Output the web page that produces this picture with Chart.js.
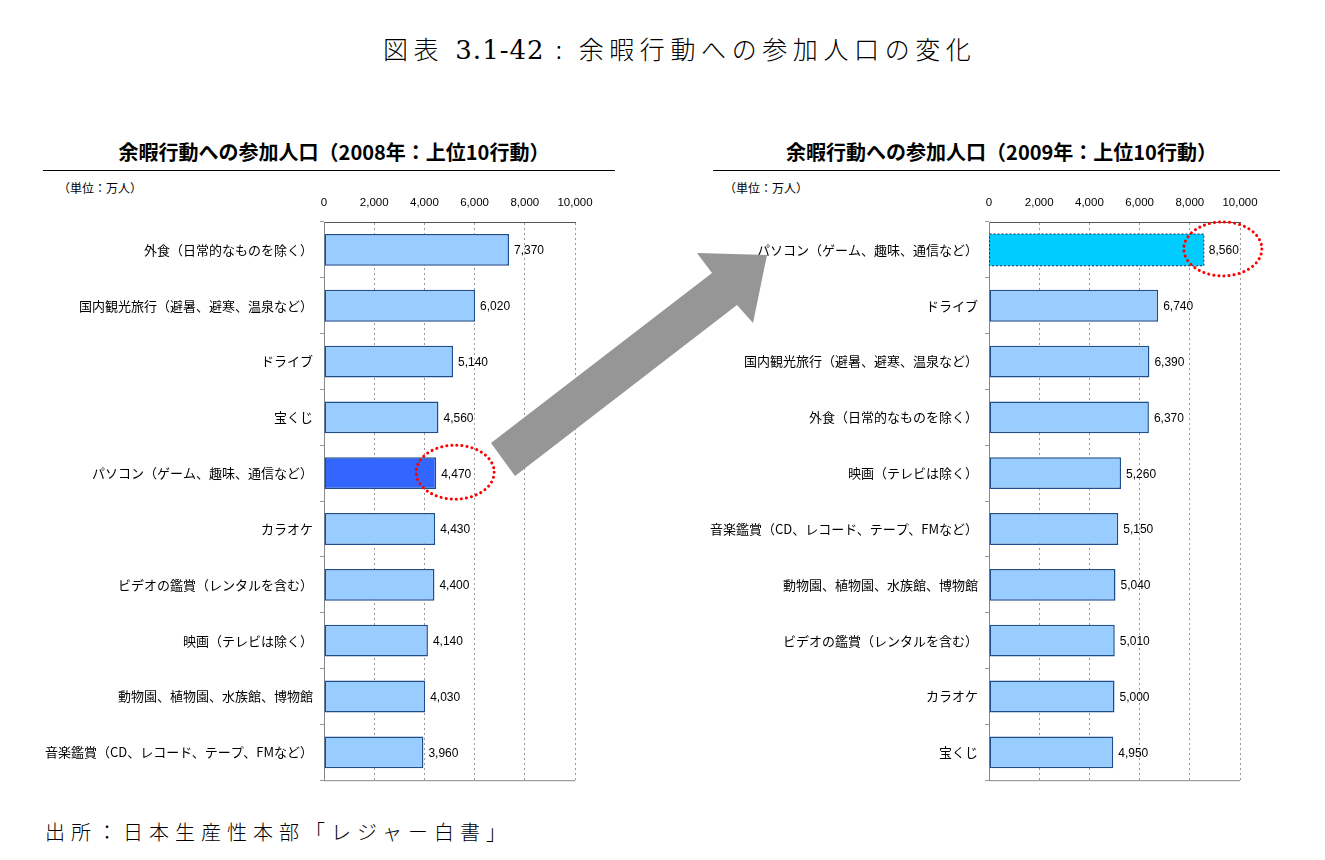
<!DOCTYPE html>
<html lang="ja">
<head>
<meta charset="utf-8">
<script src="https://cdn.jsdelivr.net/npm/chart.js@4.4.1/dist/chart.umd.min.js"></script>
<style>
  body { margin: 0; background: #fff; width: 1325px; height: 860px; position: relative; overflow: hidden;
         font-family: "Noto Sans CJK JP", sans-serif; color: #000; }
  .abs { position: absolute; }
  #mainTitle { left: 383px; top: 30px; white-space: nowrap; font-size: 25px; letter-spacing: 5.6px;
               font-family: "Noto Sans CJK JP", sans-serif; font-weight: 300; }
  #mainTitle .num { font-family: "DejaVu Serif", serif; letter-spacing: 1px; font-size: 26px; }
  .chartTitle { font-size: 20px; font-weight: bold; text-align: center; border-bottom: 1.5px solid #000;
                height: 36px; line-height: 36px; top: 134px; white-space: nowrap; }
  .chartTitle span { position: relative; left: 5px; }
  .unit { font-size: 12px; top: 179px; }
  .box { position: absolute; top: 178px; width: 580px; height: 617px; }
  #source { left: 45px; top: 817px; font-size: 20px; letter-spacing: 6px; font-weight: 300; }
  #overlay { position: absolute; left: 0; top: 0; pointer-events: none; }
</style>
</head>
<body>
<div id="mainTitle" class="abs">図表 <span class="num">3.1-42</span> : 余暇行動への参加人口の変化</div>

<div class="abs chartTitle" style="left:43px;width:572px;"><span>余暇行動への参加人口（2008年：上位10行動）</span></div>
<div class="abs chartTitle" style="left:713px;width:567px;"><span>余暇行動への参加人口（2009年：上位10行動）</span></div>
<div class="abs unit" style="left:58px;">（単位：万人）</div>
<div class="abs unit" style="left:724px;">（単位：万人）</div>

<div class="box" style="left:40px;"><canvas id="chart2008"></canvas></div>
<div class="box" style="left:710px;"><canvas id="chart2009"></canvas></div>

<div id="source" class="abs">出所：日本生産性本部「レジャー白書」</div>
<canvas id="overlay" width="1325" height="860"></canvas>

<script>
// 2008 top 10
const labels2008 = [
  "外食（日常的なものを除く）",
  "国内観光旅行（避暑、避寒、温泉など）",
  "ドライブ",
  "宝くじ",
  "パソコン（ゲーム、趣味、通信など）",
  "カラオケ",
  "ビデオの鑑賞（レンタルを含む）",
  "映画（テレビは除く）",
  "動物園、植物園、水族館、博物館",
  "音楽鑑賞（CD、レコード、テープ、FMなど）"
];
const values2008 = [7370, 6020, 5140, 4560, 4470, 4430, 4400, 4140, 4030, 3960];

// 2009 top 10
const labels2009 = [
  "パソコン（ゲーム、趣味、通信など）",
  "ドライブ",
  "国内観光旅行（避暑、避寒、温泉など）",
  "外食（日常的なものを除く）",
  "映画（テレビは除く）",
  "音楽鑑賞（CD、レコード、テープ、FMなど）",
  "動物園、植物園、水族館、博物館",
  "ビデオの鑑賞（レンタルを含む）",
  "カラオケ",
  "宝くじ"
];
const values2009 = [8560, 6740, 6390, 6370, 5260, 5150, 5040, 5010, 5000, 4950];

const xTicks = [0, 2000, 4000, 6000, 8000, 10000];
const HIGHLIGHT = "パソコン（ゲーム、趣味、通信など）";

const BAR = "#99ccff";
const BAR_EDGE = "#1f4e8c";

// value labels, bottom frame line, dotted ellipse around the highlighted value
const extras = {
  id: "extras",
  afterDatasetsDraw(chart, args, opts) {
    const ctx = chart.ctx;
    const area = chart.chartArea;
    const meta = chart.getDatasetMeta(0);
    const data = chart.data.datasets[0].data;

    ctx.save();
    ctx.strokeStyle = "#888";
    ctx.lineWidth = 1;
    ctx.beginPath();
    ctx.moveTo(area.left, area.bottom + 0.5);
    ctx.lineTo(area.right, area.bottom + 0.5);
    ctx.stroke();

    ctx.font = "12px 'Liberation Sans', Arial, sans-serif";
    ctx.fillStyle = "#000";
    ctx.textBaseline = "middle";
    meta.data.forEach((bar, i) => {
      ctx.fillText(data[i].toLocaleString("en-US"), bar.x + 5, bar.y + 1);
    });

    const hi = opts.index;
    const bar = meta.data[hi];
    if (opts.dottedEdge) {
      ctx.setLineDash([2, 2]);
      ctx.strokeStyle = "#1a2a4a";
      ctx.lineWidth = 1;
      ctx.strokeRect(bar.base, bar.y - bar.height / 2, bar.x - bar.base, bar.height);
    }
    ctx.setLineDash([0.1, 5]);
    ctx.lineCap = "round";
    ctx.lineWidth = 3;
    ctx.strokeStyle = "#ff0000";
    ctx.beginPath();
    ctx.ellipse(bar.x + 19, bar.y - 1, 39, 27, 0, 0, Math.PI * 2);
    ctx.stroke();
    ctx.restore();
  }
};

function makeChart(id, labels, values, hiColor, yWidth, rightPad, dottedEdge) {
  const hi = labels.indexOf(HIGHLIGHT);
  return new Chart(document.getElementById(id), {
    type: "bar",
    data: {
      labels: labels,
      datasets: [{
        data: values,
        backgroundColor: labels.map((l, i) => i === hi ? hiColor : BAR),
        borderColor: BAR_EDGE,
        borderWidth: labels.map((l, i) => (i === hi && dottedEdge) ? 0 : 1.5),
        borderSkipped: false,
        barPercentage: 0.57,
        categoryPercentage: 1
      }]
    },
    options: {
      indexAxis: "y",
      responsive: true,
      maintainAspectRatio: false,
      animation: false,
      layout: { padding: { top: 0, right: rightPad, bottom: 5, left: 0 } },
      plugins: {
        legend: { display: false },
        tooltip: { enabled: false },
        extras: { index: hi, dottedEdge: dottedEdge }
      },
      scales: {
        x: {
          position: "top",
          min: 0,
          max: 10000,
          afterBuildTicks: (s) => { s.ticks = xTicks.map(v => ({ value: v })); },
          afterFit: (s) => { s.height = 44; },
          ticks: {
            padding: 12,
            color: "#000",
            font: { size: 11.5, family: "'Liberation Sans', Arial, sans-serif" },
            callback: (v) => Number(v).toLocaleString("en-US")
          },
          grid: { color: "#999", drawTicks: false },
          border: { color: "#555", width: 1, dash: [2, 3] }
        },
        y: {
          afterFit: (s) => { s.width = yWidth; },
          ticks: {
            padding: 7,
            color: "#000",
            font: { size: 13, family: "'Noto Sans CJK JP', sans-serif" }
          },
          grid: { offset: true, drawOnChartArea: false, tickLength: 4, color: "#999" },
          border: { color: "#888", width: 1 }
        }
      }
    },
    plugins: [extras]
  });
}

makeChart("chart2008", labels2008, values2008, "#3366ff", 284, 45, false);
makeChart("chart2009", labels2009, values2009, "#00ccff", 279, 50, true);

// gray arrow between the two panels
const oc = document.getElementById("overlay").getContext("2d");
oc.fillStyle = "#969696";
oc.beginPath();
[[491, 443], [712, 273], [697, 253], [767, 255], [753, 323], [737, 305], [515, 476]]
  .forEach(([x, y], i) => i ? oc.lineTo(x, y) : oc.moveTo(x, y));
oc.closePath();
oc.fill();
</script>
</body>
</html>
